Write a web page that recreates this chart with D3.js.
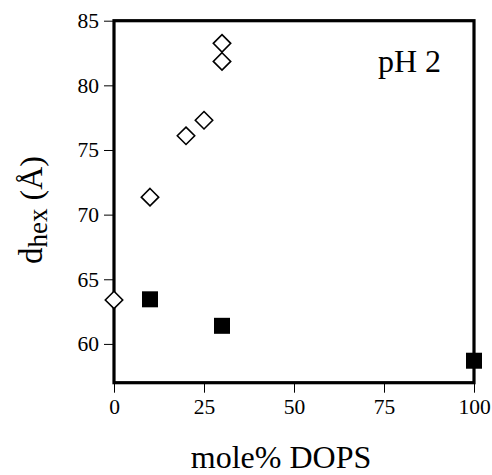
<!DOCTYPE html>
<html><head><meta charset="utf-8">
<script src="https://cdn.jsdelivr.net/npm/d3@7"></script>
</head><body style="margin:0">
<svg id="c" width="492" height="475"></svg>
<script>
const openX = [0, 10, 20, 25, 30, 30];
const openY = [63.4, 71.35, 76.1, 77.3, 83.25, 81.85];
const filledX = [10, 30, 100];
const filledY = [63.45, 61.4, 58.7];
const xTicks = [0, 25, 50, 75, 100];
const yTicks = [60, 65, 70, 75, 80, 85];

const FONT = '"Liberation Serif"';
const svg = d3.select("#c");
const L = 114, R = 474, T = 20.7, B = 382.7;
const x = d3.scaleLinear().domain([0, 100]).range([L, R]);
const y = d3.scaleLinear().domain([57, 85]).range([B, T]);

const yAx = svg.append("g").attr("transform", `translate(${L},0)`)
  .call(d3.axisLeft(y).tickValues(yTicks).tickSize(10).tickPadding(5).tickFormat(d3.format("d")));
const xAx = svg.append("g").attr("transform", `translate(0,${B})`)
  .call(d3.axisBottom(x).tickValues(xTicks).tickSize(10).tickPadding(6).tickFormat(d3.format("d")));
[yAx, xAx].forEach(g => {
  g.attr("font-family", null).attr("font-size", null);
  g.select(".domain").remove();
  g.selectAll("line").attr("stroke", "#000").attr("stroke-width", 1);
  g.selectAll("text").style("font-family", FONT).style("font-size", "21.5px").attr("fill", "#000");
});

svg.append("rect").attr("x", L).attr("y", T).attr("width", R - L).attr("height", B - T)
  .attr("fill", "none").attr("stroke", "#000").attr("stroke-width", 3.2);

const dm = 8.7;
svg.append("g").selectAll("path").data(openX.map((v, i) => [v, openY[i]])).join("path")
  .attr("d", d => `M${x(d[0])},${y(d[1]) - dm}L${x(d[0]) + dm},${y(d[1])}L${x(d[0])},${y(d[1]) + dm}L${x(d[0]) - dm},${y(d[1])}Z`)
  .attr("fill", "#fff").attr("stroke", "#000").attr("stroke-width", 1.6);

const sq = 16;
svg.append("g").selectAll("rect").data(filledX.map((v, i) => [v, filledY[i]])).join("rect")
  .attr("x", d => x(d[0]) - sq / 2).attr("y", d => y(d[1]) - sq / 2)
  .attr("width", sq).attr("height", sq).attr("fill", "#000");

svg.append("text").attr("x", 378).attr("y", 71.5).style("font-family", FONT).style("font-size", "32px").text("pH 2");
svg.append("text").attr("x", 281).attr("y", 468).attr("text-anchor", "middle").style("font-family", FONT).style("font-size", "32px").text("mole% DOPS");

const yl = svg.append("text").attr("transform", "translate(42,210) rotate(-90)").attr("text-anchor", "middle")
  .style("font-family", FONT).style("font-size", "32px");
yl.append("tspan").style("font-size", "33px").text("d");
yl.append("tspan").attr("dy", 5).style("font-size", "27px").text("hex");
yl.append("tspan").attr("dy", -5).text(" (Å)");
</script>
</body></html>
